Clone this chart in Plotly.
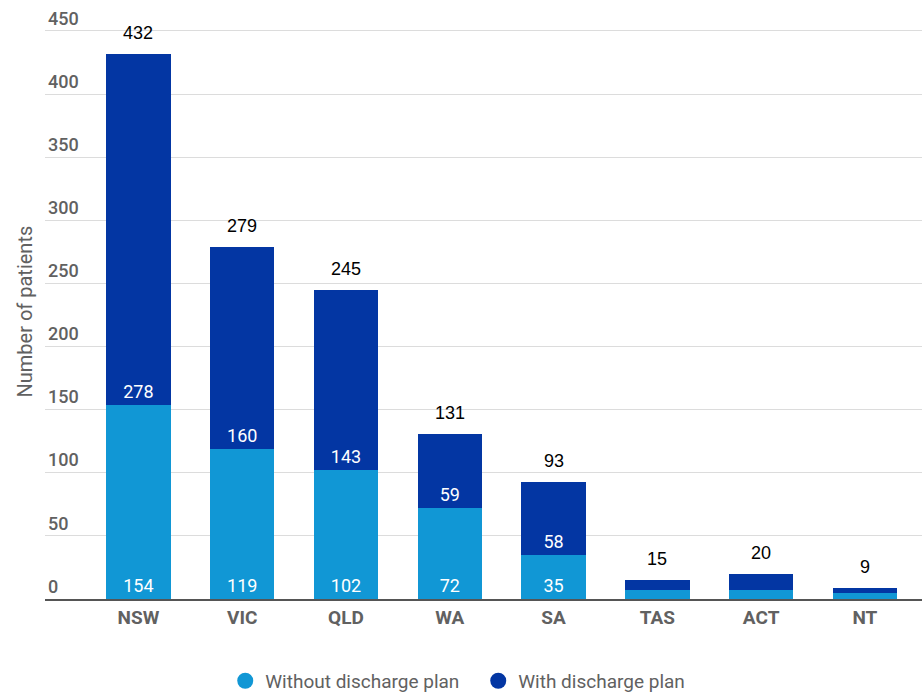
import plotly.graph_objects as go

# Patients by state, split by discharge-plan status
states = ["NSW", "VIC", "QLD", "WA", "SA", "TAS", "ACT", "NT"]
without_plan = [154, 119, 102, 72, 35, 7, 7, 5]
with_plan = [278, 160, 143, 59, 58, 8, 13, 4]
totals = [w + d for w, d in zip(without_plan, with_plan)]
y_ticks = [0, 50, 100, 150, 200, 250, 300, 350, 400, 450]

LIGHT = "#1197d5"
DARK = "#0336a3"
GREY_TEXT = "#616161"

fig = go.Figure()

fig.add_bar(
    x=states, y=without_plan, name="Without discharge plan",
    marker=dict(color=LIGHT, line=dict(width=0)),
    text=without_plan, textposition="inside", insidetextanchor="start",
    textfont=dict(family="Roboto", size=18, color="white"),
    showlegend=False,
)
fig.add_bar(
    x=states, y=with_plan, name="With discharge plan",
    marker=dict(color=DARK, line=dict(width=0)),
    text=with_plan, textposition="inside", insidetextanchor="start",
    textfont=dict(family="Roboto", size=18, color="white"),
    showlegend=False,
)

# Circular legend markers
fig.add_scatter(x=[None], y=[None], mode="markers", name="Without discharge plan",
                marker=dict(symbol="circle", size=22, color=LIGHT))
fig.add_scatter(x=[None], y=[None], mode="markers", name="With discharge plan",
                marker=dict(symbol="circle", size=22, color=DARK))

# Totals above each stack
annotations = [
    dict(x=s, y=t, text=str(t), xref="x", yref="y", yanchor="bottom",
         yshift=9, showarrow=False,
         font=dict(family="Liberation Sans", size=18, color="black"))
    for s, t in zip(states, totals)
]
annotations.append(dict(
    text="Number of patients", textangle=-90, xref="paper", yref="paper",
    x=0, y=0.48, xanchor="center", xshift=-20, showarrow=False,
    font=dict(family="Roboto", size=20, color=GREY_TEXT),
))

fig.update_layout(
    width=922, height=692,
    margin=dict(l=45, r=0, t=0, b=93),
    barmode="stack", bargap=0.38,
    plot_bgcolor="white", paper_bgcolor="white",
    uniformtext=dict(minsize=15, mode="hide"),
    legend=dict(orientation="h", xref="container", x=0.2443, xanchor="left",
                yref="container", y=0.016, yanchor="middle",
                traceorder="normal", entrywidth=208, entrywidthmode="pixels",
                font=dict(family="Roboto", size=19, color=GREY_TEXT),
                itemsizing="trace"),
    xaxis=dict(
        range=[-0.9, 7.55], showline=True, linecolor="#555555", linewidth=2,
        tickfont=dict(family="Roboto", size=19, color=GREY_TEXT, weight="bold"),
        ticks="", showgrid=False,
    ),
    yaxis=dict(
        range=[0, 474.5], tickvals=y_ticks, ticklabelposition="inside top",
        tickfont=dict(family="Roboto", size=18, color=GREY_TEXT, weight=500),
        showgrid=True, gridcolor="#dcdcdc", gridwidth=1,
        zeroline=False, showline=False, ticks="",
    ),
    annotations=annotations,
)

fig.write_html("out.html")
